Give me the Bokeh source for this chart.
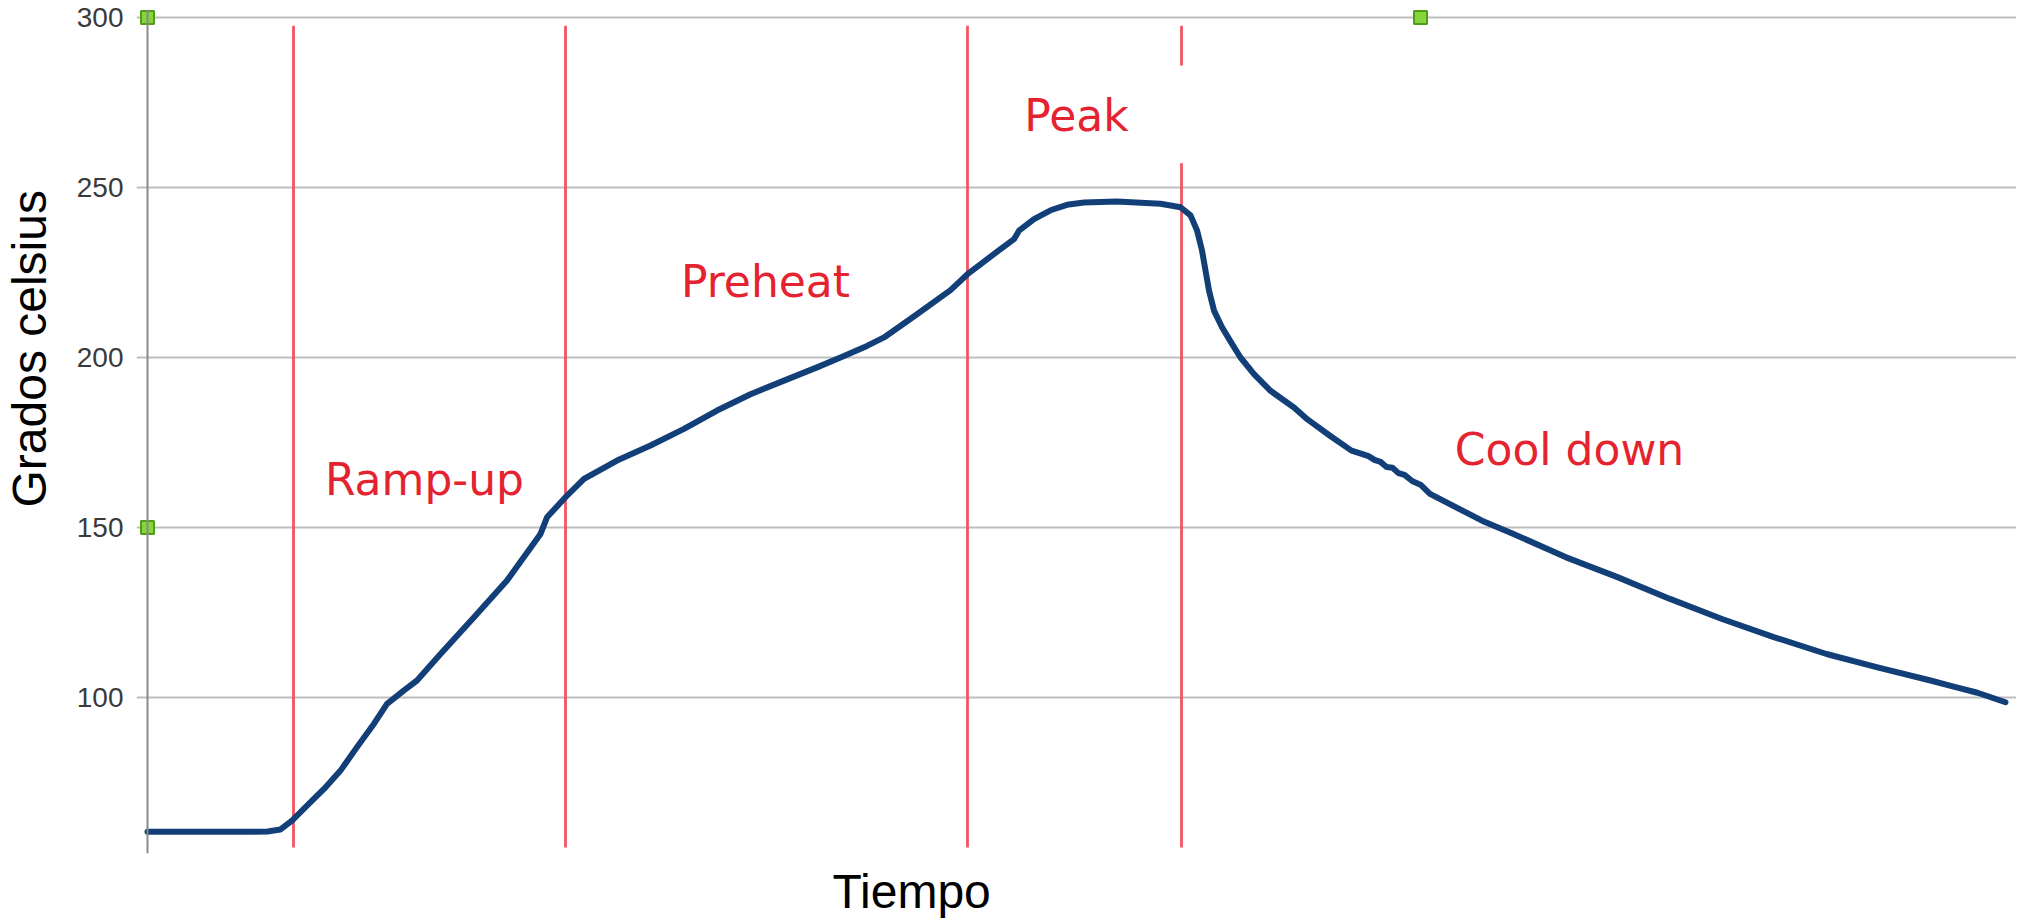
from bokeh.plotting import figure
from bokeh.models import Range1d, FixedTicker, Label, Title, LinearAxis
from bokeh.embed import file_html
from bokeh.resources import INLINE

# ---- data (time in arbitrary seconds, temperature in °C)
time_s = [0, 10, 20, 24, 26.6, 28.9, 31.9, 35.3, 38.6, 41.9, 45.3, 47.9, 51.3, 53.9,
          58.6, 65.3, 71.9, 78.6, 79.9, 83.6, 87.3, 93.9, 100.6, 107.3, 113.9, 120.6,
          127.3, 133.9, 138.6, 143.9, 147.3, 153.9, 160.6, 164.0, 167.3, 170.6, 173.3,
          174.3, 177.3, 180.6, 183.9, 187.3, 193.9, 200.6, 202.6, 206.6, 208.6, 209.9,
          210.9, 211.6, 212.3, 213.3, 214.9, 216.9, 218.6, 221.3, 224.6, 229.3, 232.0,
          236.5, 240.8, 243.0, 244.2, 245.4, 246.6, 247.8, 249.0, 250.2, 251.4, 253.0,
          254.6, 256.5, 266.9, 273.2, 283.6, 294.0, 304.5, 314.9, 325.4, 335.8, 346.2,
          356.6, 361.8, 366.0, 371.6]
temp_c = [60.5, 60.5, 60.5, 60.6, 61.2, 63.8, 68.2, 73.1, 78.5, 85.4, 92.3, 98.1, 102.1, 105.0,
          112.8, 123.6, 134.4, 148.1, 153.0, 158.9, 164.3, 169.7, 174.1, 179.0, 184.4, 189.2,
          193.2, 197.1, 200.0, 203.4, 205.9, 212.7, 219.8, 224.5, 228.2, 231.9, 234.8,
          237.3, 240.7, 243.3, 244.9, 245.6, 245.9, 245.4, 245.2, 244.2, 241.8, 237.4,
          231.5, 225.6, 219.7, 213.8, 208.9, 204.0, 200.0, 195.1, 190.2, 185.3, 181.8,
          177.0, 172.6, 171.6, 171.0, 169.9, 169.3, 167.8, 167.6, 166.0, 165.5, 163.6,
          162.6, 159.9, 152.0, 148.1, 141.3, 135.4, 129.0, 123.1, 117.7, 112.8, 108.8,
          105.0, 103.0, 101.4, 98.6]

phase_bounds = [29.2, 83.6, 164.0, 206.8]
phase_names = ["Ramp-up", "Preheat", "Peak", "Cool down"]
phase_label_x = [55.4, 123.6, 185.8, 284.4]
phase_label_y = [164.1, 222.3, 271.2, 172.9]
y_ticks = [100, 150, 200, 250, 300]
handle_x = [0, 0, 254.6]
handle_y = [300, 150, 300]

X_START, X_END = -2.2, 373.8
Y_START, Y_END = 54.12, 302.35
NBSP = "\u00a0"

p = figure(width=2016, height=918, output_backend="svg", toolbar_location=None,
           x_range=Range1d(X_START, X_END), y_range=Range1d(Y_START, Y_END),
           x_axis_location=None, min_border_left=136, min_border_right=0,
           min_border_top=9, min_border_bottom=65)
p.outline_line_color = None
p.background_fill_color = "white"
p.border_fill_color = "white"

p.xgrid.visible = False
p.ygrid.ticker = FixedTicker(ticks=y_ticks)
p.ygrid.grid_line_color = "#bebebe"
p.ygrid.grid_line_width = 2

# axis line drawn at time 0
ax = p.yaxis[0]
ax.fixed_location = 0
ax.ticker = FixedTicker(ticks=y_ticks)
ax.axis_line_color = "#8a8a8a"
ax.axis_line_width = 2
ax.major_tick_line_color = None
ax.minor_tick_line_color = None
ax.major_label_text_color = None

# tick labels (plus a blank spacer label)
lab_axis = LinearAxis(ticker=FixedTicker(ticks=y_ticks), axis_line_color=None,
                      major_tick_line_color=None, minor_tick_line_color=None,
                      major_tick_out=0, major_tick_in=0, major_label_standoff=13,
                      major_label_text_font="Liberation Sans",
                      major_label_text_font_size="28px",
                      major_label_text_color="#3a3a3a",
                      axis_label=NBSP, axis_label_standoff=3,
                      axis_label_text_font_size="10px", axis_label_text_color=None)
p.add_layout(lab_axis, "left")

# blank spacer below the frame
spacer = LinearAxis(ticker=FixedTicker(ticks=[]), axis_line_color=None,
                    major_tick_line_color=None, minor_tick_line_color=None,
                    major_tick_out=0, major_tick_in=0, major_label_standoff=0,
                    axis_label=NBSP, axis_label_standoff=0,
                    axis_label_text_font_size="6px", axis_label_text_color=None)
p.add_layout(spacer, "below")

# phase boundaries
p.segment(x0=phase_bounds, y0=[55.9] * 4, x1=phase_bounds, y1=[297.6] * 4,
          line_color="#f25562", line_width=2.8)
# white box hiding part of the last boundary
p.quad(left=[206.0], right=[258.6], bottom=[257.1], top=[285.9],
       fill_color="white", line_color=None)

p.line(time_s, temp_c, line_color="#123f78", line_width=6, line_join="round",
       line_cap="round")

p.scatter(handle_x, handle_y, marker="square", size=13, fill_color="#86d63a",
          line_color="#4f9d1b", line_width=2)

for name, lx, ly in zip(phase_names, phase_label_x, phase_label_y):
    p.add_layout(Label(x=lx, y=ly, text=name, text_align="center",
                       text_baseline="alphabetic", text_font="DejaVu Sans",
                       text_font_size="44px", text_color="#e52330"))

p.add_layout(Title(text="Tiempo", align="left", offset=696, text_font="Liberation Sans",
                   text_font_size="48px", text_font_style="normal", text_color="black",
                   standoff=0, vertical_align="bottom"), "below")
p.add_layout(Title(text="Grados celsius", align="left", offset=346, text_font="Liberation Sans",
                   text_font_size="48px", text_font_style="normal", text_color="black",
                   standoff=0, vertical_align="middle"), "left")

open("out.html", "w").write(file_html(p, INLINE))
